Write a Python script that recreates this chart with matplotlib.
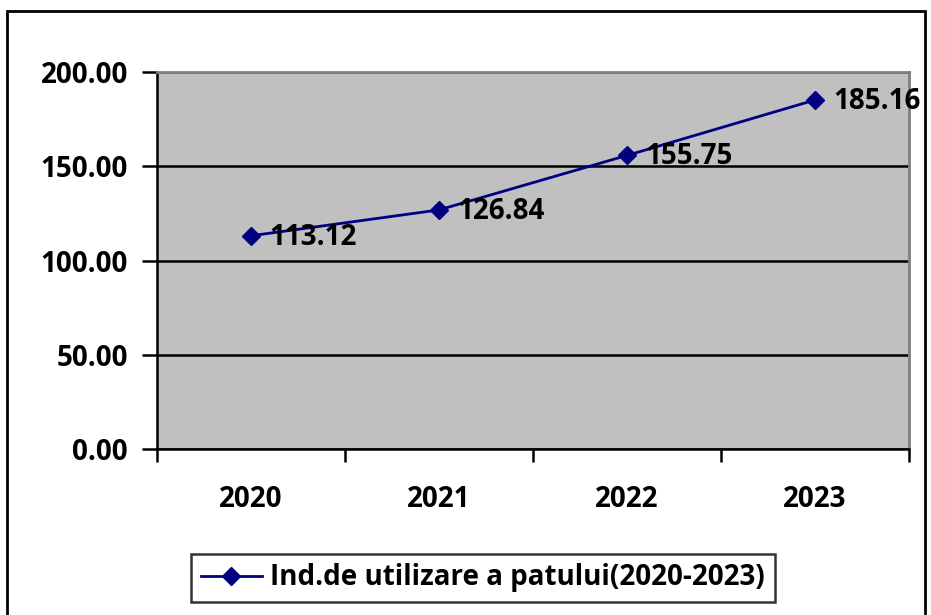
import matplotlib
matplotlib.use("Agg")
import matplotlib.pyplot as plt
from matplotlib.patches import Rectangle

years = ["2020", "2021", "2022", "2023"]
values = [113.12, 126.84, 155.75, 185.16]
yticks = [0, 50, 100, 150, 200]
series_name = "Ind.de utilizare a patului(2020-2023)"

plt.rcParams['font.family'] = ['Open Sans', 'DejaVu Sans']
plt.rcParams['font.weight'] = 'bold'
FS = 20

W, H = 931, 615
fig = plt.figure(figsize=(W / 100, H / 100), dpi=100)
ax = fig.add_axes([157 / W, 1 - 449 / H, (909 - 157) / W, (449 - 72) / H])
ax.set_facecolor('#C0C0C0')

# figure border
fig.patches.append(Rectangle((7 / W, -0.05), (925 - 7) / W, 1 - 11 / H + 0.05,
                             transform=fig.transFigure, fill=False,
                             edgecolor='black', linewidth=2, zorder=0))

x = list(range(len(years)))
line, = ax.plot(x, values, color='#000080', linewidth=2, marker='D',
                markersize=9, markerfacecolor='#000080',
                markeredgecolor='#000080', label=series_name, zorder=3)

for xi, v in zip(x, values):
    ax.annotate(f"{v:.2f}", (xi, v), xytext=(13, -1), textcoords='offset points',
                ha='left', va='center', fontsize=FS, fontweight='bold',
                color='black', zorder=4)

ax.set_xlim(-0.5, len(years) - 0.5)
ax.set_ylim(0, 200)
ax.set_yticks(yticks)
ax.set_yticklabels([f"{t:.2f}" for t in yticks], fontsize=FS, fontweight='bold')
ax.yaxis.grid(True, color='black', linewidth=1.8)
ax.set_axisbelow(True)

ax.set_xticks([i - 0.5 for i in range(len(years) + 1)], minor=False)
ax.set_xticklabels([])
ax.set_xticks(x, minor=True)
ax.set_xticklabels(years, minor=True, fontsize=FS, fontweight='bold')
ax.tick_params(axis='x', which='major', direction='out', length=9, width=1.8)
ax.tick_params(axis='x', which='minor', length=0, pad=26)
ax.tick_params(axis='y', direction='out', length=11, width=1.8, pad=10)

ax.spines['left'].set_color('black')
ax.spines['left'].set_linewidth(1.8)
ax.spines['bottom'].set_color('black')
ax.spines['bottom'].set_linewidth(1.8)
for s in ('top', 'right'):
    ax.spines[s].set_color('#808080')
    ax.spines[s].set_linewidth(2)

leg = fig.legend(handles=[line], loc='center', bbox_to_anchor=(483 / W, 1 - 578 / H),
                 frameon=True, fancybox=False, edgecolor='black',
                 prop={'weight': 'bold', 'size': FS}, handlelength=2.2,
                 handletextpad=0.3, borderpad=0.35)
leg.get_frame().set_linewidth(1.8)

fig.savefig("out.png", dpi=100)
